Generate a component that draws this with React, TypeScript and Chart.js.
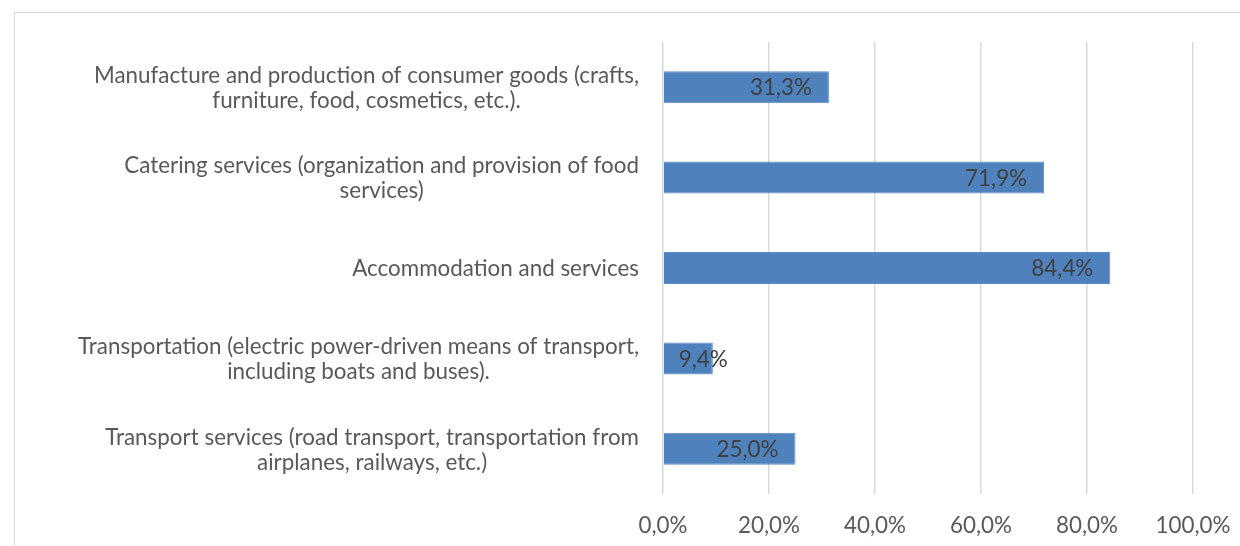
import React, { useEffect, useRef } from "react";
import { Chart, registerables } from "chart.js";

Chart.register(...registerables);

const categories: string[][] = [
  ["Manufacture and production of consumer goods (crafts,", "furniture, food, cosmetics, etc.)."],
  ["Catering services (organization and provision of food", "services)"],
  ["Accommodation and services"],
  ["Transportation (electric power-driven means of transport,", "including boats and buses)."],
  ["Transport services (road transport, transportation from", "airplanes, railways, etc.)"],
];
const values: number[] = [31.3, 71.9, 84.4, 9.4, 25.0];
const tickValues: number[] = [0, 20, 40, 60, 80, 100];

const FONT_FAMILY = "Lato, 'Open Sans', sans-serif";
const FONT_SIZE = 22.4;
const fmt = (v: number) => v.toFixed(1).replace(".", ",") + "%";

const labelsPlugin = {
  id: "customLabels",
  afterDatasetsDraw(chart: any) {
    const ctx = chart.ctx;
    const meta = chart.getDatasetMeta(0);
    const yScale = chart.scales.y;
    ctx.save();
    ctx.font = `${FONT_SIZE}px ${FONT_FAMILY}`;
    ctx.textBaseline = "middle";
    ctx.fillStyle = "#595959";
    ctx.textAlign = "center";
    const rightEdge = chart.chartArea.left - 24;
    const lineH = 25;
    categories.forEach((lines, i) => {
      const cy = yScale.getPixelForValue(i) + 1;
      const maxW = Math.max(...lines.map((l) => ctx.measureText(l).width));
      const cx = rightEdge - maxW / 2;
      const startY = cy - ((lines.length - 1) * lineH) / 2;
      lines.forEach((l, j) => ctx.fillText(l, cx, startY + j * lineH));
    });
    ctx.fillStyle = "#404040";
    ctx.textAlign = "right";
    meta.data.forEach((bar: any, i: number) => {
      const txt = fmt(values[i]);
      const w = ctx.measureText(txt).width;
      const x = Math.max(bar.x - 17, bar.base + 15 + w);
      ctx.fillText(txt, x, bar.y + 1);
    });
    ctx.restore();
  },
};

export default function App() {
  const ref = useRef<HTMLCanvasElement | null>(null);
  useEffect(() => {
    if (!ref.current) return;
    const chart = new Chart(ref.current, {
      type: "bar",
      data: {
        labels: categories.map((c) => c.join(" ")),
        datasets: [
          {
            data: values,
            backgroundColor: "#4F81BD",
            borderColor: "#5B8CC6",
            borderWidth: 1,
            categoryPercentage: 1,
            barPercentage: 0.354,
          },
        ],
      },
      options: {
        indexAxis: "y",
        animation: false,
        responsive: false,
        maintainAspectRatio: false,
        layout: { padding: { left: 663, right: 47, top: 42, bottom: 0 } },
        plugins: { legend: { display: false }, tooltip: { enabled: false } },
        scales: {
          x: {
            min: 0,
            max: 100,
            afterBuildTicks: (axis: any) => {
              axis.ticks = tickValues.map((v) => ({ value: v }));
            },
            afterFit: (axis: any) => {
              axis.height = 52;
              axis.paddingLeft = 0;
              axis.paddingRight = 0;
            },
            border: { display: false },
            grid: { color: "#d9d9d9", lineWidth: 1.5, drawTicks: false },
            ticks: {
              padding: 18,
              color: "#595959",
              font: { family: FONT_FAMILY, size: FONT_SIZE },
              callback: (v: any) => fmt(Number(v)),
            },
          },
          y: {
            display: false,
          },
        },
      },
      plugins: [labelsPlugin],
    });
    return () => chart.destroy();
  }, []);
  return (
    <div style={{ position: "absolute", left: 0, top: 0, width: 1240, height: 546, overflow: "hidden", background: "#fff" }}>
      <div
        style={{
          position: "absolute",
          left: 14,
          top: 12,
          width: 1300,
          height: 600,
          border: "1px solid #d9d9d9",
          boxSizing: "border-box",
        }}
      />
      <canvas ref={ref} width={1240} height={546} style={{ position: "absolute", left: 0, top: 0 }} />
    </div>
  );
}
